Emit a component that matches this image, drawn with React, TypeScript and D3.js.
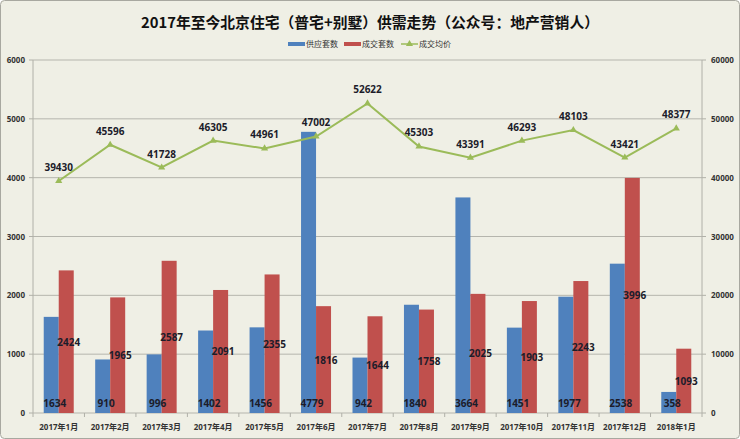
import React from "react";
import * as d3 from "d3";

const categories = ["2017年1月","2017年2月","2017年3月","2017年4月","2017年5月","2017年6月","2017年7月","2017年8月","2017年9月","2017年10月","2017年11月","2017年12月","2018年1月"];
const supply = [1634, 910, 996, 1402, 1456, 4779, 942, 1840, 3664, 1451, 1977, 2538, 358];
const deals = [2424, 1965, 2587, 2091, 2355, 1816, 1644, 1758, 2025, 1903, 2243, 3996, 1093];
const price = [39430, 45596, 41728, 46305, 44961, 47002, 52622, 45303, 43391, 46293, 48103, 43421, 48377];
const leftTicks = [0, 1000, 2000, 3000, 4000, 5000, 6000];
const rightTicks = [0, 10000, 20000, 30000, 40000, 50000, 60000];

const W = 740, H = 439;
const L = 33, R = 702, T = 60, B = 413;
const FONT = "'Open Sans', 'Noto Sans CJK SC', sans-serif";
const BLUE = "#4f81bd", RED = "#c0504d", GREEN = "#9bbb59", TXT = "#1c1c2a";

export default function App() {
  const x = d3.scaleBand<string>().domain(categories).range([L, R]).paddingInner(0).paddingOuter(0);
  const yL = d3.scaleLinear().domain([0, 6000]).range([B, T]);
  const yR = d3.scaleLinear().domain([0, 60000]).range([B, T]);
  const bw = 15;
  const line = d3.line<number>().x((_, i) => x(categories[i])! + x.bandwidth() / 2).y(d => yR(d));
  const tri = d3.symbol().type(d3.symbolTriangle).size(22);

  return (
    <svg width={W} height={H} style={{ position: "absolute", left: 0, top: 0 }} fontFamily={FONT}>
      <rect x={0.5} y={0.5} width={W - 1} height={H - 1} rx={4} fill="#efefe5" stroke="#a8a8a0" />
      <text x={370} y={28} textAnchor="middle" fontSize={14.8} fontWeight="bold" fill="#111" fontFamily="'Noto Sans CJK SC', sans-serif">2017年至今北京住宅（普宅+别墅）供需走势（公众号：地产营销人）</text>
      {/* legend */}
      <g fontSize={8} fill="#333" fontFamily="'Noto Sans CJK SC', sans-serif">
        <rect x={288} y={42} width={17} height={4} fill={BLUE} />
        <text x={306} y={47}>供应套数</text>
        <rect x={344} y={42} width={17} height={4} fill={RED} />
        <text x={362} y={47}>成交套数</text>
        <line x1={401} x2={418} y1={44} y2={44} stroke={GREEN} strokeWidth={1.5} />
        <path d={tri()!} transform="translate(409.5,44)" fill={GREEN} />
        <text x={419} y={47}>成交均价</text>
      </g>
      {/* grid */}
      {leftTicks.map(t => (
        <line key={t} x1={L} x2={R} y1={yL(t)} y2={yL(t)} stroke="#b5b5ad" strokeWidth={1} />
      ))}
      {/* axes */}
      <line x1={L} x2={L} y1={T} y2={B} stroke="#b0b0a8" />
      <line x1={R} x2={R} y1={T} y2={B} stroke="#b0b0a8" />
      {leftTicks.map(t => (
        <g key={"l" + t}>
          <line x1={L - 4} x2={L} y1={yL(t)} y2={yL(t)} stroke="#b0b0a8" />
          <text x={L - 8} y={yL(t) + 3} textAnchor="end" fontSize={8} fontWeight="bold" fill="#333">{t}</text>
        </g>
      ))}
      {rightTicks.map(t => (
        <g key={"r" + t}>
          <line x1={R} x2={R + 4} y1={yR(t)} y2={yR(t)} stroke="#b0b0a8" />
          <text x={R + 9} y={yR(t) + 3} textAnchor="start" fontSize={8} fontWeight="bold" fill="#333">{t}</text>
        </g>
      ))}
      {categories.map((c, i) => (
        <line key={"bt" + i} x1={x(c)!} x2={x(c)!} y1={B} y2={B + 4} stroke="#b0b0a8" />
      ))}
      <line x1={R} x2={R} y1={B} y2={B + 4} stroke="#b0b0a8" />
      {/* bars */}
      {categories.map((c, i) => {
        const cx = x(c)! + x.bandwidth() / 2;
        return (
          <g key={"b" + i}>
            <rect x={cx - bw} y={yL(supply[i])} width={bw} height={B - yL(supply[i])} fill={BLUE} />
            <rect x={cx} y={yL(deals[i])} width={bw} height={B - yL(deals[i])} fill={RED} />
          </g>
        );
      })}
      {/* line */}
      <path d={line(price)!} fill="none" stroke={GREEN} strokeWidth={2} />
      {price.map((p, i) => (
        <path key={"m" + i} d={tri()!} transform={`translate(${x(categories[i])! + x.bandwidth() / 2},${yR(p)})`} fill={GREEN} />
      ))}
      {/* labels */}
      <g fontSize={10} fontWeight="bold" fill={TXT} textAnchor="middle">
        {categories.map((c, i) => {
          const cx = x(c)! + x.bandwidth() / 2;
          return (
            <g key={"t" + i}>
              <text x={cx - 4} y={B - 6}>{supply[i]}</text>
              <text x={cx + 10} y={(yL(deals[i]) + B) / 2 + 4}>{deals[i]}</text>
              <text x={cx} y={yR(price[i]) - 10}>{price[i]}</text>
            </g>
          );
        })}
      </g>
      {categories.map((c, i) => (
        <text key={"x" + i} x={x(c)! + x.bandwidth() / 2} y={B + 17} textAnchor="middle" fontSize={8} fontWeight="bold" fill="#333">{c}</text>
      ))}
    </svg>
  );
}
